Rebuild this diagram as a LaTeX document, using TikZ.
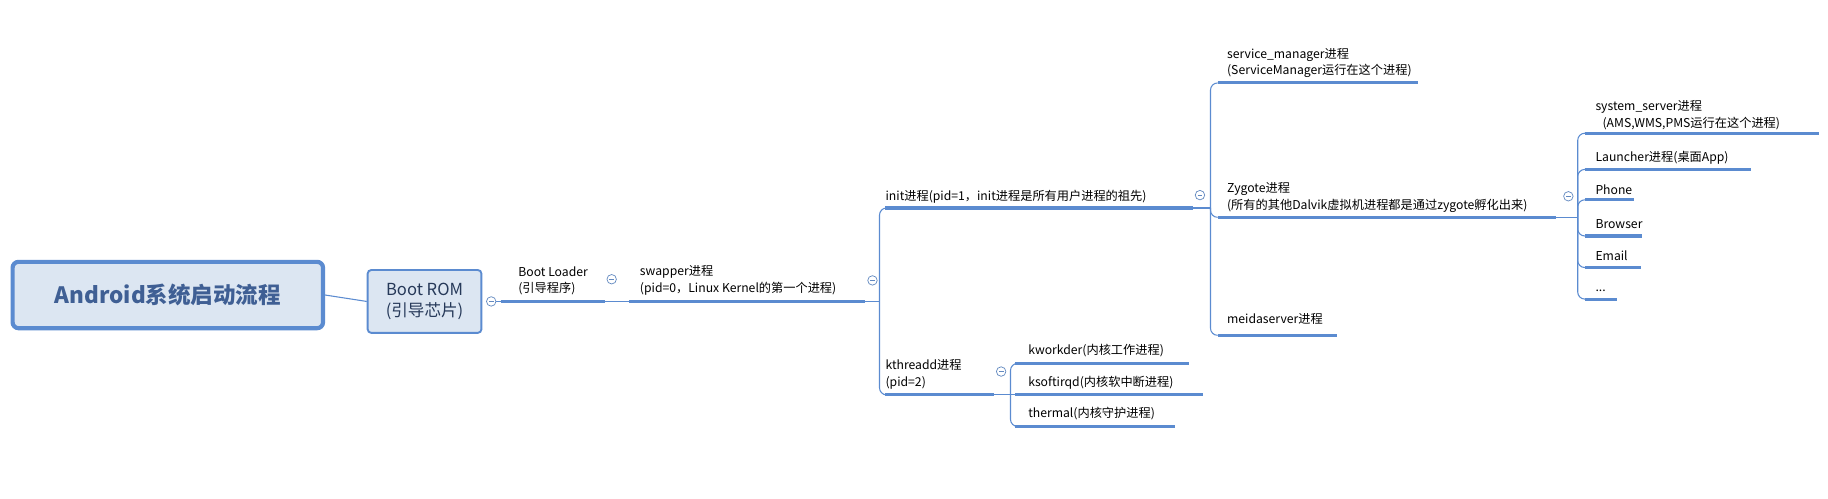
\documentclass[tikz,border=0pt]{standalone}
\usepackage{fontspec}
\setmainfont{Noto Sans CJK SC}
\definecolor{ln}{HTML}{5B8BD0}
\definecolor{fl}{HTML}{DCE6F2}
\definecolor{tt}{HTML}{3F5F94}
\begin{document}
\begin{tikzpicture}[x=0.987pt,y=-0.986pt,
 bar/.style={draw=ln,line width=2.6pt},
 con/.style={draw=ln,line width=0.9pt,rounded corners=6pt},
 lbl/.style={anchor=south west,inner sep=0pt,align=left,font=\fontsize{10.3}{14.3}\selectfont},
 tog/.style={circle,draw=ln!80!gray,line width=0.6pt,fill=white,minimum size=8pt,inner sep=0pt,
   path picture={\draw[ln!80!gray,line width=0.6pt] ([xshift=-2pt]path picture bounding box.center)--([xshift=2pt]path picture bounding box.center);}}]
\useasboundingbox (0,0) rectangle (1563,427);
% root
\node[draw=ln,line width=3.5pt,fill=fl,rounded corners=5pt,minimum width=262pt,minimum height=56pt,
  text=tt,font=\fontsize{19}{22}\selectfont\bfseries] (root) at (143.5,252.5) {Android系统启动流程};
\node[draw=ln,line width=1.6pt,fill=fl,rounded corners=3pt,minimum width=96pt,minimum height=53pt,
  align=center,text=tt!60!black,font=\fontsize{14}{18}\selectfont] (rom) at (363,258) {Boot ROM\\(引导芯片)};
\draw[draw=ln,line width=0.9pt] (root.east) -- (rom.west);
\node[tog] (t1) at (420,258) {};
% Boot loader
\coordinate (bl1) at (428,258); \coordinate (bl2) at (517,258);
\draw[bar] (bl1) -- (bl2);
\draw[draw=ln,line width=0.9pt] (t1) -- (bl1);
\node[lbl] (bl) at (443,253) {Boot Loader\\(引导程序)};
\node[tog] (t2) at (523,239) {};
% swapper
\coordinate (sw1) at (538,258); \coordinate (sw2) at (740,258);
\draw[draw=ln,line width=0.9pt] (bl2) -- (sw1);
\draw[bar] (sw1) -- (sw2);
\node[lbl] (sw) at (547,253) {swapper进程\\(pid=0，Linux Kernel的第一个进程)};
\node[tog] (t3) at (746,240) {};
\coordinate (j1) at (752,258);
\draw[draw=ln,line width=0.9pt] (sw2) -- (j1);
% init
\coordinate (in1) at (757,178); \coordinate (in2) at (1020,178);
\draw[bar] (in1) -- (in2);
\node[lbl] (in) at (757,174) {init进程(pid=1，init进程是所有用户进程的祖先)};
\node[tog] (t4) at (1026,167) {};
% kthreadd
\coordinate (kt1) at (757,338); \coordinate (kt2) at (850,338);
\draw[bar] (kt1) -- (kt2);
\node[lbl] (kt) at (757,333) {kthreadd进程\\(pid=2)};
\node[tog] (t5) at (856,318) {};
\draw[con] (j1) |- (in1);
\draw[con] (j1) |- (kt1);
% kthreadd children
\coordinate (j2) at (864,338);
\draw[draw=ln,line width=0.9pt] (kt2) -- (j2);
\coordinate (kw1) at (868,311); \coordinate (kw2) at (1017,311);
\coordinate (ks1) at (868,338); \coordinate (ks2) at (1029,338);
\coordinate (th1) at (868,365); \coordinate (th2) at (1005,365);
\draw[bar] (kw1) -- (kw2); \draw[bar] (ks1) -- (ks2); \draw[bar] (th1) -- (th2);
\node[lbl] (kw) at (879,306) {kworkder(内核工作进程)};
\node[lbl] (ks) at (879,333) {ksoftirqd(内核软中断进程)};
\node[lbl] (th) at (879,360) {thermal(内核守护进程)};
\draw[con] (j2) |- (kw1);
\draw[con] (j2) -- (ks1);
\draw[con] (j2) |- (th1);
% init children
\coordinate (j3) at (1035,178);
\draw[draw=ln,line width=0.9pt] (in2) -- (j3);
\coordinate (sm1) at (1041,71); \coordinate (sm2) at (1212,71);
\coordinate (zy1) at (1041,186); \coordinate (zy2) at (1330,186);
\coordinate (md1) at (1041,287); \coordinate (md2) at (1143,287);
\draw[bar] (sm1) -- (sm2); \draw[bar] (zy1) -- (zy2); \draw[bar] (md1) -- (md2);
\node[lbl] (sm) at (1049,67) {service\_manager进程\\(ServiceManager运行在这个进程)};
\node[lbl] (zy) at (1049,182) {Zygote进程\\(所有的其他Dalvik虚拟机进程都是通过zygote孵化出来)};
\node[lbl] (md) at (1049,278) {meidaserver进程};
\draw[con] (j3) |- (sm1);
\draw[con] (j3) |- (zy1);
\draw[con] (j3) |- (md1);
\node[tog] (t6) at (1341,168) {};
% zygote children
\coordinate (j4) at (1349,186);
\draw[draw=ln,line width=0.9pt] (zy2) -- (j4);
\coordinate (ss1) at (1355,114); \coordinate (ss2) at (1555,114);
\coordinate (la1) at (1355,145); \coordinate (la2) at (1497,145);
\coordinate (ph1) at (1355,171); \coordinate (ph2) at (1397,171);
\coordinate (br1) at (1355,202); \coordinate (br2) at (1404,202);
\coordinate (em1) at (1355,229); \coordinate (em2) at (1403,229);
\coordinate (dd1) at (1355,256); \coordinate (dd2) at (1383,256);
\foreach \a/\b in {ss1/ss2,la1/la2,ph1/ph2,br1/br2,em1/em2,dd1/dd2}{\draw[bar] (\a) -- (\b);}
\foreach \a in {ss1,la1,ph1,br1,em1,dd1}{\draw[con] (j4) |- (\a);}
\node[lbl] (ss) at (1364,111) {system\_server进程\\\hspace*{6pt}(AMS,WMS,PMS运行在这个进程)};
\node[lbl] (la) at (1364,141) {Launcher进程(桌面App)};
\node[lbl] (ph) at (1364,167) {Phone};
\node[lbl] (br) at (1364,196) {Browser};
\node[lbl] (em) at (1364,223) {Email};
\node[lbl] (dd) at (1364,250) {...};
\end{tikzpicture}
\end{document}
